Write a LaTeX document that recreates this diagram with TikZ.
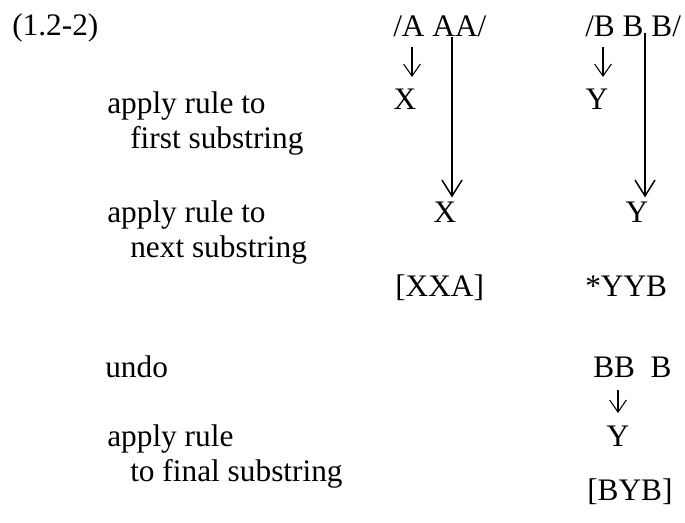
\documentclass[tikz,border=0pt]{standalone}
\usepackage{fontspec}
\setmainfont{Liberation Serif}
\usepackage{tikz}
\usetikzlibrary{arrows.meta,calc}
\tikzset{
  ruletext/.style={anchor=base west, inner sep=0pt},
  segtext/.style={anchor=base, inner sep=0pt},
  shortarr/.style={draw=black, line width=0.8pt,
    -{Straight Barb[length=9pt,width=12.5pt,line width=0.8pt]}},
  longarr/.style={draw=black, line width=1.1pt,
    -{Straight Barb[length=12pt,width=15pt,line width=1.1pt]},
    shorten >=3.6pt}
}
\begin{document}
\begin{tikzpicture}[x=0.75pt, y=-0.75pt, font=\fontsize{23.5}{27}\selectfont]
  \useasboundingbox[fill=white] (0,0) rectangle (685,523);

  \node[ruletext] (eqno) at (12,36) {(1.2-2)};

  % input strings
  \node[ruletext] (inA) at (393,37) {/A AA/};
  \node[ruletext] (inB) at (585,37) {/B B B/};

  % first substring
  \node[segtext] (xa) at (405,110) {X};
  \node[segtext] (ya) at (597,110) {Y};
  \coordinate (dnAtop) at (412,47);
  \coordinate (dnAend) at (412,77);
  \coordinate (dnBtop) at (603,47);
  \coordinate (dnBend) at (603,77);
  \draw[shortarr] (dnAtop) -- (dnAend);
  \draw[shortarr] (dnBtop) -- (dnBend);
  \node[ruletext] (step1a) at (107,114) {apply rule to};
  \node[ruletext] (step1b) at (130,149) {first substring};

  % next substring
  \node[segtext] (xb) at (445,223) {X};
  \node[segtext] (yb) at (637,223) {Y};
  \node[ruletext] (step2a) at (107,223) {apply rule to};
  \node[ruletext] (step2b) at (130,258) {next substring};

  \coordinate (topA) at (452,37);
  \coordinate (topB) at (645,33);
  \draw[longarr] (topA) -- (topA |- xb.north);
  \draw[longarr] (topB) -- (topB |- yb.north);

  % results
  \node[ruletext] (outA) at (395,297) {[XXA]};
  \node[ruletext] (outB) at (585,297) {*YYB};

  % undo and final substring
  \node[ruletext] (undo) at (105,378) {undo};
  \node[ruletext] (redo) at (593,378) {BB\ \ B};
  \node[segtext] (yc) at (618,446) {Y};
  \coordinate (dnCtop) at (618,390);
  \coordinate (dnCend) at (618,413);
  \draw[shortarr] (dnCtop) -- (dnCend);
  \node[ruletext] (step3a) at (107,446) {apply rule};
  \node[ruletext] (step3b) at (130,481) {to final substring};
  \node[ruletext] (final) at (587,500) {[BYB]};
\end{tikzpicture}
\end{document}
